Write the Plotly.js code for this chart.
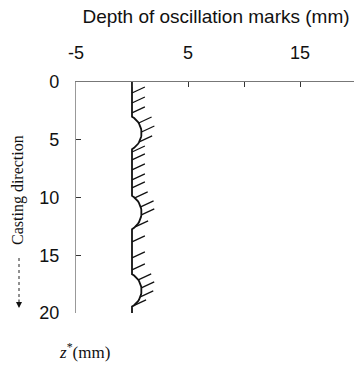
<!DOCTYPE html>
<html>
<head>
<meta charset="utf-8">
<script src="https://cdn.plot.ly/plotly-3.0.1.min.js"></script>
<style>html,body{margin:0;padding:0;background:#fff;}#chart{width:354px;height:365px;}</style>
</head>
<body>
<div id="chart"></div>
<script>
// Oscillation-mark profile (mm)
var xTickVals = [-5, 0, 5, 10, 15, 20];
var xTickText = ['-5', '', '5', '', '15', ''];
var yTickVals = [0, 5, 10, 15, 20];
var yTickText = ['0', '5', '10', '15', '20'];
var profileX = 0;                       // undisturbed surface position
var profileTop = 0, profileBottom = 20;
var markCenters = [4.41, 11.3, 18.04];  // depth z* of each oscillation mark centre
var markHalfHeight = [1.41, 1.44, 1.40];
var markDepth = [0.85, 0.85, 0.85];
var hatchZ = [0.95, 1.82, 2.68, 3.55, 4.33, 5.19, 6.06, 6.75, 7.61, 8.48, 9.17,
              10.03, 10.81, 11.5, 12.54, 13.84, 15.22, 16.26, 17.13, 17.82, 18.6, 19.38];
var hatchDx = 1.15, hatchDz = -0.52;

// surface x position at depth z (circular-arc marks)
function surfaceX(z) {
  for (var i = 0; i < markCenters.length; i++) {
    var u = z - markCenters[i], h = markHalfHeight[i], s = markDepth[i];
    if (Math.abs(u) <= h) {
      var R = (h * h + s * s) / (2 * s);
      return profileX + Math.sqrt(R * R - u * u) - (R - s);
    }
  }
  return profileX;
}

// build profile path
var px = [profileX], pz = [profileTop];
for (var i = 0; i < markCenters.length; i++) {
  var c = markCenters[i], h = markHalfHeight[i];
  px.push(profileX); pz.push(c - h);
  for (var k = 1; k < 24; k++) {
    var z = c - h + 2 * h * k / 24;
    px.push(surfaceX(z)); pz.push(z);
  }
  px.push(profileX); pz.push(c + h);
}
px.push(profileX); pz.push(profileBottom);

// hatch segments
var hx = [], hz = [];
hatchZ.forEach(function (z) {
  var x0 = surfaceX(z);
  hx.push(x0, x0 + hatchDx, null);
  hz.push(z, z + hatchDz, null);
});

var traces = [
  {x: hx, y: hz, mode: 'lines', line: {color: '#111', width: 1.3}, hoverinfo: 'skip', showlegend: false},
  {x: px, y: pz, mode: 'lines', line: {color: '#111', width: 1.8}, hoverinfo: 'skip', showlegend: false}
];

var W = 354, H = 365, L = 76, T = 82, PW = 278, PH = 231;
function pxX(p) { return (p - L) / PW; }
function pxY(p) { return 1 - (p - T) / PH; }

var layout = {
  width: W, height: H,
  margin: {l: L, r: W - L - PW, t: T, b: H - T - PH, pad: 0},
  paper_bgcolor: '#fff', plot_bgcolor: '#fff',
  showlegend: false,
  font: {family: '"Liberation Sans", Arial, sans-serif', color: '#111'},
  title: {
    text: 'Depth of oscillation marks (mm)',
    font: {family: '"Liberation Sans", Arial, sans-serif', size: 19, color: '#111'},
    xref: 'container', yref: 'container',
    x: 216 / W, y: 1 - 16 / H, xanchor: 'center', yanchor: 'middle'
  },
  xaxis: {
    side: 'top', range: [-5, 19.82], showgrid: false, zeroline: false,
    tickmode: 'array', tickvals: xTickVals, ticktext: xTickText,
    ticks: 'inside', ticklen: 5, tickcolor: '#333', tickwidth: 1,
    showline: true, linecolor: '#777', linewidth: 1,
    ticklabelstandoff: 15,
    tickfont: {size: 18, color: '#111'}
  },
  yaxis: {
    range: [20, 0], showgrid: false, zeroline: false,
    tickmode: 'array', tickvals: yTickVals, ticktext: yTickText,
    ticks: 'inside', ticklen: 5, tickcolor: '#333', tickwidth: 1,
    showline: true, linecolor: '#999', linewidth: 1.2,
    ticklabelstandoff: 12,
    tickfont: {size: 18, color: '#111'}
  },
  shapes: [
    {type: 'line', xref: 'paper', yref: 'paper', x0: pxX(19), x1: pxX(19), y0: pxY(258), y1: pxY(300),
     line: {color: '#222', width: 1, dash: 'dot'}}
  ],
  annotations: [
    {text: 'Casting direction', xref: 'paper', yref: 'paper', x: pxX(18), y: pxY(190),
     xanchor: 'center', yanchor: 'middle', textangle: -90, showarrow: false,
     font: {family: '"Liberation Serif", "Times New Roman", serif', size: 16, color: '#111'}},
    {text: '', xref: 'paper', yref: 'paper', x: pxX(19), y: pxY(308), ax: 0, ay: -10,
     showarrow: true, arrowhead: 2, arrowsize: 1.2, arrowwidth: 1, arrowcolor: '#111'},
    {text: '<i>z</i><sup>*</sup>(mm)', xref: 'paper', yref: 'paper', x: pxX(57), y: pxY(351),
     xanchor: 'left', yanchor: 'middle', showarrow: false,
     font: {family: '"Liberation Serif", "Times New Roman", serif', size: 17, color: '#111'}}
  ]
};

Plotly.newPlot('chart', traces, layout, {displayModeBar: false, staticPlot: true});
</script>
</body>
</html>
